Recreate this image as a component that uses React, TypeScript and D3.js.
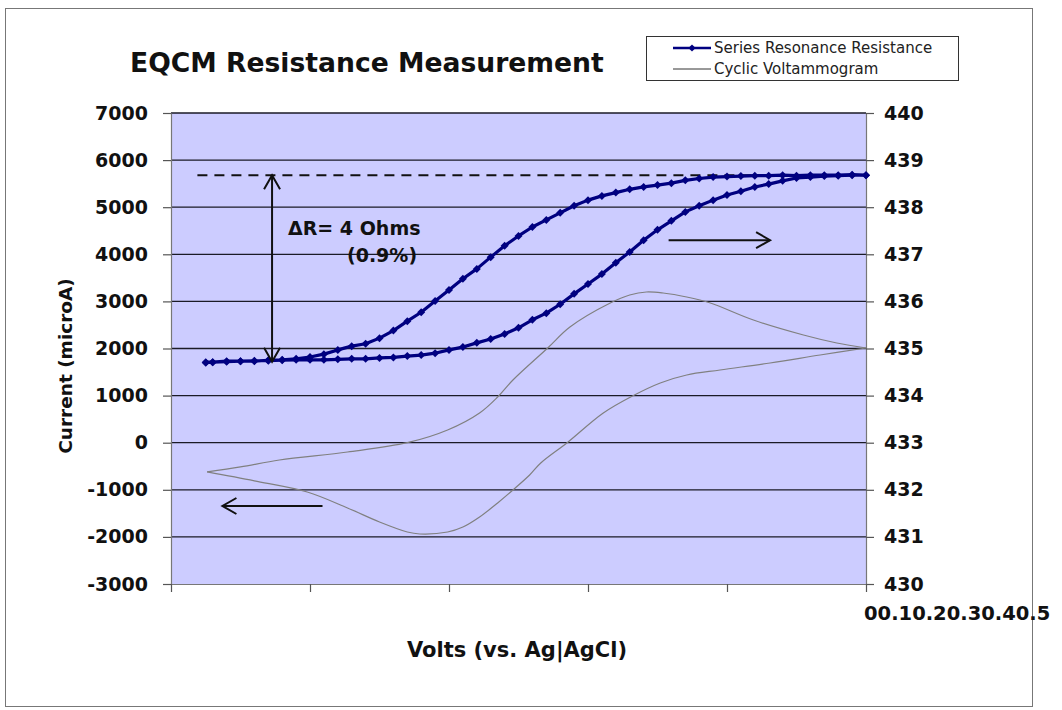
import { useRef, useEffect } from 'react';
import * as d3 from 'd3';

// resistance sweep (volts shared by both sweeps)
const resistanceVolts = [
  0.025, 0.03, 0.04, 0.05, 0.06, 0.07, 0.08, 0.09, 0.1, 0.11, 0.12, 0.13, 0.14,
  0.15, 0.16, 0.17, 0.18, 0.19, 0.2, 0.21, 0.22, 0.23, 0.24, 0.25, 0.26, 0.27,
  0.28, 0.29, 0.3, 0.31, 0.32, 0.33, 0.34, 0.35, 0.36, 0.37, 0.38, 0.39, 0.4,
  0.41, 0.42, 0.43, 0.44, 0.45, 0.46, 0.47, 0.48, 0.49, 0.5,
];
const resistanceForward = [
  434.71, 434.71, 434.73, 434.73, 434.74, 434.74, 434.75, 434.76, 434.76, 434.76,
  434.77, 434.78, 434.78, 434.8, 434.81, 434.84, 434.86, 434.9, 434.97, 435.03,
  435.12, 435.2, 435.31, 435.44, 435.61, 435.75, 435.94, 436.16, 436.37, 436.58,
  436.82, 437.05, 437.3, 437.52, 437.71, 437.9, 438.03, 438.15, 438.26, 438.34,
  438.43, 438.49, 438.56, 438.62, 438.64, 438.66, 438.67, 438.68, 438.68,
];
const resistanceReturn = [
  434.7, 434.71, 434.72, 434.73, 434.73, 434.75, 434.76, 434.78, 434.82, 434.88,
  434.97, 435.05, 435.1, 435.22, 435.38, 435.58, 435.77, 436.01, 436.24, 436.48,
  436.69, 436.94, 437.18, 437.39, 437.58, 437.73, 437.88, 438.03, 438.15, 438.24,
  438.31, 438.38, 438.43, 438.47, 438.51, 438.57, 438.61, 438.64, 438.65, 438.66,
  438.67, 438.67, 438.68, 438.67, 438.68, 438.68, 438.68, 438.69, 438.68,
];

// cyclic voltammogram, anodic branch (left to right) and cathodic branch (right to left)
const cvForwardVolts = [
  0.026, 0.05, 0.078, 0.127, 0.17, 0.199, 0.222, 0.235, 0.246, 0.271, 0.287,
  0.316, 0.33, 0.342, 0.354, 0.371, 0.388, 0.419, 0.455, 0.479, 0.5,
];
const cvForwardCurrent = [
  -620, -515, -367, -197, 0, 270, 631, 970, 1331, 2011, 2456, 2966, 3136, 3200,
  3178, 3093, 2966, 2605, 2287, 2117, 2011,
];
const cvReverseVolts = [
  0.5, 0.467, 0.431, 0.395, 0.371, 0.352, 0.332, 0.311, 0.285, 0.266, 0.258,
  0.246, 0.235, 0.222, 0.21, 0.199, 0.179, 0.17, 0.15, 0.127, 0.098, 0.06, 0.026,
];
const cvReverseCurrent = [
  2011, 1862, 1692, 1544, 1437, 1268, 992, 631, 0, -431, -686, -1004, -1280,
  -1577, -1790, -1896, -1938, -1896, -1684, -1386, -1047, -810, -620,
];

const currentTicks = [-3000, -2000, -1000, 0, 1000, 2000, 3000, 4000, 5000, 6000, 7000];
const ohmTicks = [430, 431, 432, 433, 434, 435, 436, 437, 438, 439, 440];
const voltTicks = [0, 0.1, 0.2, 0.3, 0.4, 0.5];
const voltTickLabels = ['0', '0.1', '0.2', '0.3', '0.4', '0.5'];
const seriesNames = ['Series Resonance Resistance', 'Cyclic Voltammogram'];

// annotation values
const plateauOhms = 438.68;
const baseOhms = 434.72;

export default function App() {
  const ref = useRef<SVGSVGElement>(null);

  useEffect(() => {
    if (!ref.current) return;
    const svg = d3.select(ref.current);
    svg.selectAll('*').remove();

    const font = '"DejaVu Sans", Verdana, sans-serif';
    const plot = { left: 171, right: 866, top: 113, bottom: 584 };
    const navy = '#000080';
    const cvColor = '#808080';

    const x = d3.scaleLinear().domain([0, 0.5]).range([plot.left, plot.right]);
    const yI = d3.scaleLinear().domain([-3000, 7000]).range([plot.bottom, plot.top]);
    const yR = d3.scaleLinear().domain([430, 440]).range([plot.bottom, plot.top]);

    // outer frame
    svg.append('rect')
      .attr('x', 5.5).attr('y', 8.5).attr('width', 1027).attr('height', 698)
      .attr('fill', 'white').attr('stroke', '#777').attr('stroke-width', 1);

    // title
    svg.append('text')
      .attr('x', 130).attr('y', 72)
      .attr('font-family', font).attr('font-size', 26.6).attr('font-weight', 'bold')
      .attr('fill', '#111')
      .text('EQCM Resistance Measurement');

    // plot area
    svg.append('rect')
      .attr('x', plot.left).attr('y', plot.top)
      .attr('width', plot.right - plot.left).attr('height', plot.bottom - plot.top)
      .attr('fill', '#ccccff');

    svg.append('g')
      .selectAll('line')
      .data(currentTicks.filter((d) => d > -3000))
      .join('line')
      .attr('x1', plot.left).attr('x2', plot.right)
      .attr('y1', (d) => yI(d)).attr('y2', (d) => yI(d))
      .attr('stroke', '#1a1a26').attr('stroke-width', 1.3);

    // axes
    const styleAxis = (g: any) => {
      g.select('.domain').attr('stroke', '#777').attr('stroke-width', 1.2);
      g.selectAll('.tick line').attr('stroke', '#555').attr('stroke-width', 1.2);
      g.selectAll('text')
        .attr('font-family', font).attr('font-size', 19).attr('font-weight', 'bold')
        .attr('fill', '#111');
    };
    const plain = (d: any) => String(d);

    svg.append('g')
      .attr('transform', `translate(${plot.left},0)`)
      .call(d3.axisLeft(yI).tickValues(currentTicks).tickSize(8).tickSizeOuter(0).tickPadding(15).tickFormat(plain))
      .call(styleAxis);

    svg.append('g')
      .attr('transform', `translate(${plot.right},0)`)
      .call(d3.axisRight(yR).tickValues(ohmTicks).tickSize(8).tickSizeOuter(0).tickPadding(10).tickFormat(plain))
      .call(styleAxis);

    svg.append('g')
      .attr('transform', `translate(0,${plot.bottom})`)
      .call(d3.axisBottom(x).tickValues(voltTicks).tickSize(8).tickSizeOuter(0).tickFormat(() => ''))
      .call(styleAxis);

    // x tick labels, all run together at the right end as in the original
    const xl = svg.append('text')
      .attr('x', 864).attr('y', 620)
      .attr('font-family', font).attr('font-size', 19.5).attr('font-weight', 'bold')
      .attr('fill', '#111');
    xl.selectAll('tspan').data(voltTickLabels).join('tspan').text((d) => d);

    // axis titles
    svg.append('text')
      .attr('transform', `translate(65,366) rotate(-90)`)
      .attr('text-anchor', 'middle').attr('dominant-baseline', 'central')
      .attr('font-family', font).attr('font-size', 18.5).attr('font-weight', 'bold')
      .attr('fill', '#111')
      .text('Current (microA)');

    svg.append('text')
      .attr('x', 517).attr('y', 657)
      .attr('text-anchor', 'middle')
      .attr('font-family', font).attr('font-size', 21).attr('font-weight', 'bold')
      .attr('fill', '#111')
      .text('Volts (vs. Ag|AgCl)');

    // cyclic voltammogram
    const cvLine = d3.line<[number, number]>()
      .x((d) => x(d[0])).y((d) => yI(d[1]))
      .curve(d3.curveCatmullRom.alpha(0.5));
    const cvBranches = [
      cvForwardVolts.map((v, i) => [v, cvForwardCurrent[i]] as [number, number]),
      cvReverseVolts.map((v, i) => [v, cvReverseCurrent[i]] as [number, number]),
    ];
    svg.append('g')
      .selectAll('path')
      .data(cvBranches)
      .join('path')
      .attr('d', (d) => cvLine(d))
      .attr('fill', 'none').attr('stroke', cvColor).attr('stroke-width', 1.2);

    // dashed plateau line
    svg.append('line')
      .attr('x1', x(0.019)).attr('x2', x(0.5))
      .attr('y1', yR(plateauOhms)).attr('y2', yR(plateauOhms))
      .attr('stroke', '#111').attr('stroke-width', 2).attr('stroke-dasharray', '10,7');

    // resistance loop
    const resPts: [number, number][] = [
      ...resistanceVolts.map((v, i) => [v, resistanceForward[i]] as [number, number]),
      ...resistanceVolts.map((v, i) => [v, resistanceReturn[i]] as [number, number]).reverse(),
    ];
    const resLine = d3.line<[number, number]>().x((d) => x(d[0])).y((d) => yR(d[1]));
    svg.append('path')
      .attr('d', resLine(resPts))
      .attr('fill', 'none').attr('stroke', navy).attr('stroke-width', 3.2)
      .attr('stroke-linejoin', 'round');
    const diamond = 'M0,-4L4,0L0,4L-4,0Z';
    svg.append('g')
      .selectAll('path')
      .data(resPts)
      .join('path')
      .attr('transform', (d) => `translate(${x(d[0])},${yR(d[1])})`)
      .attr('d', diamond)
      .attr('fill', navy);

    // arrows
    const head = (tx: number, ty: number, dx: number, dy: number) => {
      // open arrow head pointing along (dx, dy)
      const len = Math.hypot(dx, dy);
      const ux = dx / len, uy = dy / len;
      const px = -uy, py = ux;
      const b = 14, w = 8;
      return `M${tx - ux * b + px * w},${ty - uy * b + py * w}L${tx},${ty}L${tx - ux * b - px * w},${ty - uy * b - py * w}`;
    };
    const arrows = [
      { x1: x(0.0727), y1: yR(baseOhms), x2: x(0.0727), y2: yR(plateauOhms), both: true },
      { x1: x(0.358), y1: yR(437.3), x2: x(0.431), y2: yR(437.3), both: false },
      { x1: x(0.109), y1: yI(-1344), x2: x(0.037), y2: yI(-1344), both: false },
    ];
    const ag = svg.append('g').attr('fill', 'none').attr('stroke', '#111').attr('stroke-width', 2);
    arrows.forEach((a) => {
      ag.append('line').attr('x1', a.x1).attr('y1', a.y1).attr('x2', a.x2).attr('y2', a.y2);
      ag.append('path').attr('d', head(a.x2, a.y2, a.x2 - a.x1, a.y2 - a.y1));
      if (a.both) ag.append('path').attr('d', head(a.x1, a.y1, a.x1 - a.x2, a.y1 - a.y2));
    });

    svg.append('text')
      .attr('x', 288).attr('y', 235)
      .attr('font-family', font).attr('font-size', 19).attr('font-weight', 'bold').attr('fill', '#111')
      .text('\u0394R= 4 Ohms');
    svg.append('text')
      .attr('x', 347).attr('y', 262)
      .attr('font-family', font).attr('font-size', 19).attr('font-weight', 'bold').attr('fill', '#111')
      .text('(0.9%)');

    // legend
    const lg = svg.append('g');
    lg.append('rect')
      .attr('x', 646.5).attr('y', 36.5).attr('width', 312).attr('height', 44)
      .attr('fill', 'white').attr('stroke', '#333').attr('stroke-width', 1);
    const rows = lg.selectAll('g.row')
      .data(seriesNames)
      .join('g')
      .attr('class', 'row')
      .attr('transform', (_, i) => `translate(0,${48 + i * 21})`);
    rows.append('line')
      .attr('x1', 673).attr('x2', 711).attr('y1', 0).attr('y2', 0)
      .attr('stroke', (_, i) => (i === 0 ? navy : '#333'))
      .attr('stroke-width', (_, i) => (i === 0 ? 2.6 : 1));
    rows.filter((_, i) => i === 0).append('path')
      .attr('transform', 'translate(692,0) scale(0.9)').attr('d', diamond).attr('fill', navy);
    rows.append('text')
      .attr('x', 714).attr('y', 0).attr('dominant-baseline', 'central')
      .attr('font-family', font).attr('font-size', 15).attr('fill', '#222')
      .text((d) => d);
  }, []);

  return (
    <svg
      ref={ref}
      width={1062}
      height={710}
      style={{ position: 'absolute', left: 0, top: 0, background: 'white' }}
    />
  );
}
